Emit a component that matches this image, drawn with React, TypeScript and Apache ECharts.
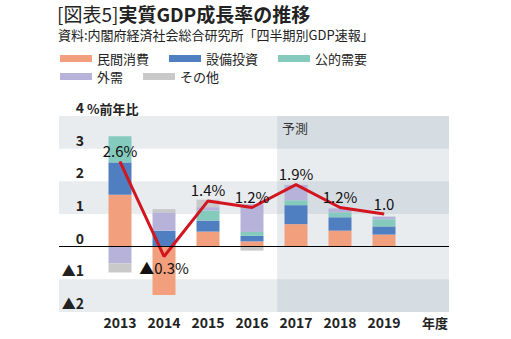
import React, { useEffect, useRef } from "react";
import * as echarts from "echarts";

const years = ["2013", "2014", "2015", "2016", "2017", "2018", "2019"];
const consumption = [1.59, -1.48, 0.46, 0.16, 0.69, 0.49, 0.37];
const capex = [0.99, 0.49, 0.34, 0.17, 0.58, 0.41, 0.25];
const publicDemand = [0.8, 0, 0.31, 0.12, 0.15, 0.15, 0.22];
const externalDemand = [-0.51, 0.56, 0.1, 0.85, 0.47, 0.12, 0.08];
const other = [-0.28, 0.1, 0.23, -0.12, 0, 0, 0];
const gdp = [2.6, -0.3, 1.4, 1.2, 1.9, 1.2, 1.0];
const gdpLabels = ["2.6%", "▲0.3%", "1.4%", "1.2%", "1.9%", "1.2%", "1.0"];
const seriesNames = ["民間消費", "設備投資", "公的需要", "外需", "その他"];
const yMin = -2;
const yMax = 4;
const unitLabel = "年度";
const forecastLabel = "予測";

// background coordinate frame (in year units)
const X_MIN = 2011.61;
const X_MAX = 2020.48;
const FORECAST_START = 2016.57;
const UNIT_POS = 2020.16;

const COLORS = ["#f19f7d", "#4f7fc1", "#84cbbd", "#b6b2d9", "#c9c9c9"];
const BAND = "#e9ecef";
const BAND_DARK = "#d6dde2";
const FONT = "'Noto Sans CJK JP', 'Noto Sans', sans-serif";
const TEXT = "#222";

export default function App() {
  const ref = useRef<HTMLDivElement>(null);
  useEffect(() => {
    if (!ref.current) return;
    const chart = echarts.init(ref.current, null, { renderer: "svg" });
    const values = [consumption, capex, publicDemand, externalDemand, other];

    const darkBands = [[3, 4], [1, 2], [-2, -1]];
    const areas: any[] = [];
    darkBands.forEach(([a, b]) => {
      areas.push([
        { xAxis: X_MIN, yAxis: a, itemStyle: { color: BAND } },
        { xAxis: FORECAST_START, yAxis: b },
      ]);
    });
    areas.push([
      { xAxis: FORECAST_START, yAxis: yMin, itemStyle: { color: BAND } },
      { xAxis: X_MAX, yAxis: yMax },
    ]);
    darkBands.forEach(([a, b]) => {
      const first: any = { xAxis: FORECAST_START, yAxis: a, itemStyle: { color: BAND_DARK } };
      if (b === yMax) {
        first.name = forecastLabel;
        first.label = {
          show: true,
          position: "insideTopLeft",
          distance: 5,
          color: "#333",
          fontSize: 13,
          fontFamily: FONT,
        };
      }
      areas.push([first, { xAxis: X_MAX, yAxis: b }]);
    });

    const barSeries = seriesNames.map((name, i) => ({
      name,
      type: "bar",
      stack: "total",
      barWidth: 23,
      xAxisIndex: 1,
      yAxisIndex: 1,
      itemStyle: { color: COLORS[i] },
      data: values[i],
      z: 2,
    }));

    const legendCommon = {
      left: 60,
      padding: 0,
      itemWidth: 32,
      itemHeight: 7,
      itemGap: 20,
      icon: "rect",
      textStyle: { fontSize: 13, color: TEXT, width: 60, fontFamily: FONT },
    };

    chart.setOption({
      animation: false,
      textStyle: { fontFamily: FONT },
      title: [
        {
          text: "{a|[図表5]}{b|実質GDP成長率の推移}",
          left: 57,
          top: 4,
          padding: 0,
          textStyle: {
            rich: {
              a: { fontSize: 19, fontWeight: "normal", color: TEXT, fontFamily: FONT },
              b: { fontSize: 19, fontWeight: "bold", color: TEXT, fontFamily: FONT },
            },
          },
        },
        {
          text: "資料:内閣府経済社会総合研究所「四半期別GDP速報」",
          left: 58,
          top: 28,
          padding: 0,
          textStyle: { fontSize: 13, fontWeight: "normal", color: TEXT, fontFamily: FONT },
        },
      ],
      legend: [
        { ...legendCommon, data: seriesNames.slice(0, 3), top: 52 },
        { ...legendCommon, data: seriesNames.slice(3), top: 70 },
      ],
      grid: [
        { left: 59, right: 62, top: 116, bottom: 27, containLabel: false },
        { left: 98, right: 105, top: 116, bottom: 27, containLabel: false },
      ],
      xAxis: [
        {
          type: "value",
          gridIndex: 0,
          min: X_MIN,
          max: X_MAX,
          axisLine: { show: false },
          axisTick: { show: false },
          splitLine: { show: false },
          axisLabel: {
            customValues: [UNIT_POS],
            formatter: () => unitLabel,
            fontSize: 13,
            fontWeight: "bold",
            color: TEXT,
            margin: 4,
            fontFamily: FONT,
          },
        },
        {
          type: "category",
          gridIndex: 1,
          data: years,
          axisLine: { show: false },
          axisTick: { show: false },
          splitLine: { show: false },
          axisLabel: {
            interval: 0,
            fontSize: 14,
            fontWeight: "bold",
            color: TEXT,
            margin: 3,
            fontFamily: FONT,
          },
        },
      ],
      yAxis: [
        {
          type: "value",
          gridIndex: 0,
          z: 6,
          min: yMin,
          max: yMax,
          interval: 1,
          name: "%前年比",
          nameLocation: "end",
          nameGap: 1,
          nameMoveOverlap: false,
          nameTextStyle: {
            align: "left",
            verticalAlign: "bottom",
            padding: [0, 0, 0, 28],
            fontSize: 13,
            fontWeight: "bold",
            color: TEXT,
            fontFamily: FONT,
          },
          axisLine: { show: false },
          axisTick: { show: false },
          splitLine: { show: false },
          axisLabel: {
            interval: 0,
            hideOverlap: false,
            formatter: (v: number) => (v < 0 ? "▲" + Math.abs(v) : String(v)),
            align: "right",
            verticalAlign: "bottom",
            margin: -25,
            lineHeight: 14,
            padding: [0, 0, 2, 0],
            fontSize: 14,
            fontWeight: "bold",
            color: TEXT,
            fontFamily: FONT,
          },
        },
        {
          type: "value",
          gridIndex: 1,
          min: yMin,
          max: yMax,
          interval: 1,
          show: false,
          splitLine: { show: false },
        },
      ],
      series: [
        {
          name: "bg",
          type: "scatter",
          xAxisIndex: 0,
          yAxisIndex: 0,
          data: [],
          silent: true,
          markArea: {
            silent: true,
            label: { show: false },
            data: areas,
          },
          markLine: {
            silent: true,
            symbol: "none",
            label: { show: false },
            lineStyle: { color: "#000", width: 1, type: "solid" },
            data: [{ yAxis: 0 }],
          },
        },
        ...barSeries,
        {
          name: "GDP",
          type: "line",
          xAxisIndex: 1,
          yAxisIndex: 1,
          z: 3,
          symbol: "circle",
          symbolSize: 1,
          itemStyle: { color: "#d2151f" },
          lineStyle: { color: "#d2151f", width: 3 },
          data: gdp.map((v) => ({
            value: v,
            label: v < 0 ? { position: "bottom" } : undefined,
          })),
          label: {
            show: true,
            position: "top",
            distance: 3,
            fontSize: 15,
            color: "#111",
            fontFamily: FONT,
            formatter: (p: any) => gdpLabels[p.dataIndex],
          },
        },
      ],
    });
    return () => chart.dispose();
  }, []);
  return (
    <div
      ref={ref}
      style={{ position: "fixed", left: 0, top: 0, width: 511, height: 339, background: "#fff" }}
    />
  );
}
